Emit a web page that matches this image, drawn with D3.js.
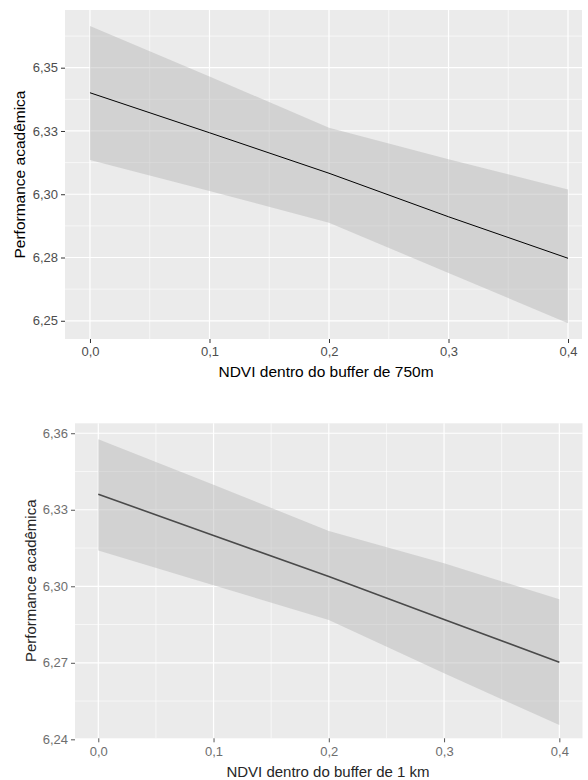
<!DOCTYPE html>
<html>
<head>
<meta charset="utf-8">
<script src="https://cdn.jsdelivr.net/npm/d3@7"></script>
<style>
  html, body { margin: 0; padding: 0; background: #ffffff; }
  svg { display: block; }
  text { font-family: Arial, "Liberation Sans", sans-serif; }
</style>
</head>
<body>
<svg id="chart" width="588" height="780"></svg>
<script>
// ---- Data ----
const ndvi = [0, 0.1, 0.2, 0.3, 0.4];

// Panel 1: buffer de 750m
const fit750   = [6.3401, 6.3243, 6.3083, 6.2911, 6.2747];
const upper750 = [6.3665, 6.3465, 6.3263, 6.3138, 6.3019];
const lower750 = [6.3135, 6.3013, 6.2887, 6.2689, 6.2490];

// Panel 2: buffer de 1 km
const fit1k   = [6.3361, 6.3199, 6.3038, 6.2870, 6.2702];
const upper1k = [6.3576, 6.3398, 6.3217, 6.3090, 6.2949];
const lower1k = [6.3140, 6.3004, 6.2868, 6.2659, 6.2456];

const xTicks = [0, 0.1, 0.2, 0.3, 0.4];
const xTickLabels = ["0,0", "0,1", "0,2", "0,3", "0,4"];
const xMinor = [0.05, 0.15, 0.25, 0.35];

const yTicks750 = [6.25, 6.275, 6.30, 6.325, 6.35];
const yTickLabels750 = ["6,25", "6,28", "6,30", "6,33", "6,35"];
const yMinor750 = [6.2625, 6.2875, 6.3125, 6.3375, 6.3625];

const yTicks1k = [6.24, 6.27, 6.30, 6.33, 6.36];
const yTickLabels1k = ["6,24", "6,27", "6,30", "6,33", "6,36"];
const yMinor1k = [6.255, 6.285, 6.315, 6.345];

const yTitle = "Performance acadêmica";
const xTitle750 = "NDVI dentro do buffer de 750m";
const xTitle1k = "NDVI dentro do buffer de 1 km";

// ---- Drawing ----
const svg = d3.select("#chart");

function panel(cfg) {
  const { left, right, top, bottom, xDomain, yDomain } = cfg;
  const x = d3.scaleLinear().domain(xDomain).range([left, right]);
  const y = d3.scaleLinear().domain(yDomain).range([bottom, top]);
  const g = svg.append("g");

  g.append("rect")
    .attr("x", left).attr("y", top)
    .attr("width", right - left).attr("height", bottom - top)
    .attr("fill", "#ebebeb");

  // minor grid
  g.selectAll(".ymin").data(cfg.yMinor.filter(v => y(v) > top && y(v) < bottom)).join("line")
    .attr("x1", left).attr("x2", right)
    .attr("y1", d => y(d)).attr("y2", d => y(d))
    .attr("stroke", "#ffffff").attr("stroke-width", 0.6);
  g.selectAll(".xmin").data(xMinor).join("line")
    .attr("y1", top).attr("y2", bottom)
    .attr("x1", d => x(d)).attr("x2", d => x(d))
    .attr("stroke", "#ffffff").attr("stroke-width", 0.6);
  // major grid
  g.selectAll(".ymaj").data(cfg.yTicks.filter(v => y(v) >= top && y(v) <= bottom)).join("line")
    .attr("x1", left).attr("x2", right)
    .attr("y1", d => y(d)).attr("y2", d => y(d))
    .attr("stroke", "#ffffff").attr("stroke-width", 1.2);
  g.selectAll(".xmaj").data(xTicks).join("line")
    .attr("y1", top).attr("y2", bottom)
    .attr("x1", d => x(d)).attr("x2", d => x(d))
    .attr("stroke", "#ffffff").attr("stroke-width", 1.2);

  const pts = ndvi.map((v, i) => ({ x: v, lo: cfg.lower[i], hi: cfg.upper[i], f: cfg.fit[i] }));

  g.append("path")
    .datum(pts)
    .attr("d", d3.area().x(d => x(d.x)).y0(d => y(d.lo)).y1(d => y(d.hi)))
    .attr("fill", "#b3b3b3").attr("fill-opacity", 0.45);

  g.append("path")
    .datum(pts)
    .attr("d", d3.line().x(d => x(d.x)).y(d => y(d.f)))
    .attr("fill", "none").attr("stroke", cfg.lineColor).attr("stroke-width", cfg.lineWidth);

  // axes
  const xAxis = d3.axisBottom(x).tickValues(xTicks)
    .tickFormat((d, i) => xTickLabels[i]).tickSizeOuter(0).tickSizeInner(4).tickPadding(4);
  const gx = g.append("g").attr("transform", `translate(0,${bottom})`).call(xAxis);
  gx.select(".domain").remove();
  gx.selectAll("line").attr("stroke", cfg.tickColor);
  gx.selectAll("text").attr("fill", cfg.tickTextColor).attr("font-size", cfg.tickFont)
    .attr("font-family", "Arial, 'Liberation Sans', sans-serif");

  const yAxis = d3.axisLeft(y).tickValues(cfg.yTicks)
    .tickFormat((d, i) => cfg.yTickLabels[i]).tickSizeOuter(0).tickSizeInner(4).tickPadding(3);
  const gy = g.append("g").attr("transform", `translate(${left},0)`).call(yAxis);
  gy.select(".domain").remove();
  gy.selectAll("line").attr("stroke", cfg.tickColor);
  gy.selectAll("text").attr("fill", cfg.tickTextColor).attr("font-size", cfg.tickFont)
    .attr("font-family", "Arial, 'Liberation Sans', sans-serif");

  // titles
  g.append("text")
    .attr("x", cfg.xTitleX).attr("y", cfg.xTitleY)
    .attr("text-anchor", "middle").attr("font-size", cfg.titleFont)
    .attr("fill", cfg.titleColor).text(cfg.xTitle);
  g.append("text")
    .attr("transform", `translate(${cfg.yTitleX},${(top + bottom) / 2}) rotate(-90)`)
    .attr("text-anchor", "middle").attr("font-size", cfg.titleFont)
    .attr("fill", cfg.titleColor).text(yTitle);
}

panel({
  left: 65, right: 582, top: 10, bottom: 339,
  xDomain: [-0.0209, 0.4117], yDomain: [6.2428, 6.3728],
  yTicks: yTicks750, yTickLabels: yTickLabels750, yMinor: yMinor750,
  fit: fit750, upper: upper750, lower: lower750,
  lineColor: "#000000", lineWidth: 1,
  tickColor: "#333333", tickTextColor: "#4d4d4d", tickFont: "13px",
  titleFont: "15.5px", titleColor: "#000000",
  xTitle: xTitle750, xTitleX: 326, xTitleY: 377, yTitleX: 25
});

panel({
  left: 75, right: 582.5, top: 423.3, bottom: 738.3,
  xDomain: [-0.0202, 0.4201], yDomain: [6.2404, 6.3639],
  yTicks: yTicks1k, yTickLabels: yTickLabels1k, yMinor: yMinor1k,
  fit: fit1k, upper: upper1k, lower: lower1k,
  lineColor: "#4a4a4a", lineWidth: 1.6,
  tickColor: "#555555", tickTextColor: "#6e6e6e", tickFont: "13px",
  titleFont: "15px", titleColor: "#262626",
  xTitle: xTitle1k, xTitleX: 328, xTitleY: 777, yTitleX: 36
});
</script>
</body>
</html>
